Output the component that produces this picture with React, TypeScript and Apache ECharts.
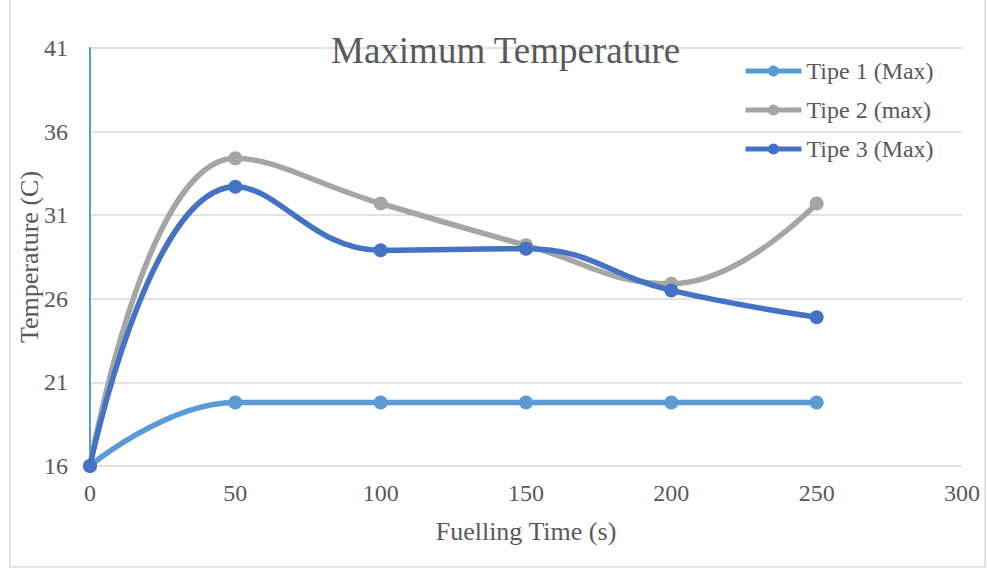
import React, { useEffect, useRef } from "react";
import * as echarts from "echarts";

const fuellingTime = [0, 50, 100, 150, 200, 250];
const tipe1Max = [16, 19.8, 19.8, 19.8, 19.8, 19.8];
const tipe2Max = [16, 34.4, 31.7, 29.2, 26.9, 31.7];
const tipe3Max = [16, 32.7, 28.9, 29.0, 26.5, 24.9];

const seriesNames = ["Tipe 1 (Max)", "Tipe 2 (max)", "Tipe 3 (Max)"];
const seriesColors = ["#5B9BD5", "#A5A5A5", "#4472C4"];

const FONT = "'Liberation Serif', 'Times New Roman', serif";
const TEXT = "#595959";

function pairs(values: number[]) {
  return fuellingTime.map((x, i) => [x, values[i]]);
}

export default function App() {
  const ref = useRef<HTMLDivElement>(null);

  useEffect(() => {
    if (!ref.current) return;
    const chart = echarts.init(ref.current, undefined, { renderer: "svg" });
    const allValues = [tipe1Max, tipe2Max, tipe3Max];
    chart.setOption({
      animation: false,
      backgroundColor: "#ffffff",
      textStyle: { fontFamily: FONT },
      title: {
        text: "Maximum Temperature",
        left: 326,
        top: 27,
        textStyle: { fontFamily: FONT, fontSize: 37, fontWeight: "normal", color: TEXT },
      },
      legend: {
        orient: "vertical",
        left: 738,
        top: 54,
        itemWidth: 56,
        itemHeight: 14,
        itemGap: 15,
        lineStyle: { width: 5 },
        textStyle: { fontFamily: FONT, fontSize: 24, color: TEXT },
        data: seriesNames,
      },
      graphic: [
        {
          type: "rect",
          shape: { x: 10, y: -2, width: 975, height: 569 },
          style: { fill: "none", stroke: "#D9D9D9", lineWidth: 1.5 },
          silent: true,
        },
      ],
      grid: { left: 90, right: 25, top: 48, bottom: 103 },
      xAxis: {
        type: "value",
        min: 0,
        max: 300,
        interval: 50,
        name: "Fuelling Time (s)",
        nameLocation: "middle",
        nameGap: 52,
        nameMoveOverlap: false,
        nameTextStyle: { fontFamily: FONT, fontSize: 26, color: TEXT },
        axisLine: { show: false },
        axisTick: { show: false },
        splitLine: { show: false },
        axisLabel: { fontFamily: FONT, fontSize: 24, color: TEXT, margin: 15 },
      },
      yAxis: {
        type: "value",
        min: 16,
        max: 41,
        interval: 5,
        name: "Temperature (C)",
        nameLocation: "middle",
        nameGap: 48,
        nameMoveOverlap: false,
        nameTextStyle: { fontFamily: FONT, fontSize: 26, color: TEXT },
        axisLine: { show: true, lineStyle: { color: "#5B9BD5", width: 2 } },
        axisTick: { show: false },
        splitLine: { show: true, lineStyle: { color: "#D9D9D9", width: 1.5 } },
        axisLabel: { fontFamily: FONT, fontSize: 24, color: TEXT, margin: 22 },
      },
      series: seriesNames.map((name, i) => ({
        name,
        type: "line",
        smooth: 0.45,
        data: pairs(allValues[i]),
        symbol: "circle",
        symbolSize: 14,
        color: seriesColors[i],
        lineStyle: { width: 5.5, color: seriesColors[i] },
        itemStyle: { color: seriesColors[i] },
        z: 2 + i,
      })),
    });
    return () => chart.dispose();
  }, []);

  return (
    <div
      ref={ref}
      style={{ position: "fixed", left: 0, top: 0, width: 987, height: 569 }}
    />
  );
}
